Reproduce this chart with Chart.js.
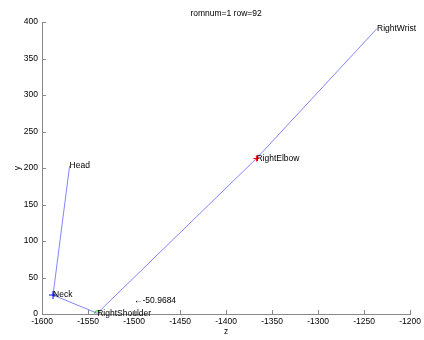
<!DOCTYPE html>
<html>
<head>
<meta charset="utf-8">
<script src="https://cdn.jsdelivr.net/npm/chart.js@4/dist/chart.umd.min.js"></script>
<style>
  html, body { margin: 0; padding: 0; background: #fff; }
  #wrap { width: 424px; height: 340px; }
</style>
</head>
<body>
<div id="wrap"><canvas id="c" width="424" height="340"></canvas></div>
<script>
// Skeleton joints: depth (z) and height (y)
const joints = ['Head', 'Neck', 'RightShoulder', 'RightElbow', 'RightWrist'];
const zValues = [-1570, -1588, -1540, -1367, -1236];
const yValues = [203, 26, 1, 213, 391];

// Angle annotation
const angleLabel = '\u2190-50.9684';
const angleZ = -1500;
const angleY = 18;

const plotTitle = 'romnum=1 row=92';
const xTicks = [-1600, -1550, -1500, -1450, -1400, -1350, -1300, -1250, -1200];
const yTicks = [0, 50, 100, 150, 200, 250, 300, 350, 400];

const FONT = '"Liberation Sans", Arial, sans-serif';
const FSIZE = 8.5;

const points = zValues.map((z, i) => ({ x: z, y: yValues[i] }));

const markerStyles = [false, 'cross', 'circle', 'cross', false];
const markerColors = ['#0000ff', '#0000ff', '#00cc00', '#ff0000', '#0000ff'];
const markerRadius = [0, 4, 2.5, 3, 0];

const annotate = {
  id: 'annotate',
  afterDatasetsDraw(chart) {
    const ctx = chart.ctx;
    const xs = chart.scales.x, ys = chart.scales.y;
    const area = chart.chartArea;
    ctx.save();
    // inward tick marks
    ctx.strokeStyle = '#888';
    ctx.lineWidth = 1;
    ctx.beginPath();
    xTicks.forEach(v => {
      const px = Math.round(xs.getPixelForValue(v)) + 0.5;
      ctx.moveTo(px, area.bottom);
      ctx.lineTo(px, area.bottom - 4);
    });
    yTicks.forEach(v => {
      const py = Math.round(ys.getPixelForValue(v)) + 0.5;
      ctx.moveTo(area.left, py);
      ctx.lineTo(area.left + 4, py);
    });
    ctx.stroke();

    // joint names
    ctx.fillStyle = '#000';
    ctx.font = FSIZE + 'px ' + FONT;
    ctx.textAlign = 'left';
    ctx.textBaseline = 'middle';
    joints.forEach((name, i) => {
      ctx.fillText(name, xs.getPixelForValue(zValues[i]), ys.getPixelForValue(yValues[i]));
    });
    ctx.fillText(angleLabel, xs.getPixelForValue(angleZ), ys.getPixelForValue(angleY));

    // title and axis labels
    ctx.textAlign = 'center';
    ctx.fillText(plotTitle, (area.left + area.right) / 2, 14);
    ctx.fillText('z', (area.left + area.right) / 2, 332);
    ctx.translate(18, (area.top + area.bottom) / 2);
    ctx.rotate(-Math.PI / 2);
    ctx.fillText('y', 0, 0);
    ctx.restore();
  }
};

new Chart(document.getElementById('c'), {
  type: 'scatter',
  data: {
    datasets: [{
      data: points,
      showLine: true,
      borderColor: 'rgba(110, 110, 255, 0.85)',
      borderWidth: 1,
      pointStyle: markerStyles,
      pointRadius: markerRadius,
      pointBorderColor: markerColors,
      pointBackgroundColor: 'rgba(0,0,0,0)',
      pointBorderWidth: 1
    }]
  },
  options: {
    responsive: false,
    animation: false,
    events: [],
    layout: { padding: { left: 0, top: 22, right: 12, bottom: 0 } },
    plugins: { legend: { display: false }, tooltip: { enabled: false } },
    scales: {
      x: {
        type: 'linear',
        min: -1600, max: -1200,
        afterBuildTicks: s => { s.ticks = xTicks.map(v => ({ value: v })); },
        afterFit: s => { s.height = 26; },
        grid: { display: false, drawTicks: false },
        border: { display: true, color: '#888' },
        ticks: { color: '#000', font: { family: FONT, size: FSIZE }, padding: 3, maxRotation: 0, autoSkip: false,
                 callback: v => String(v) }
      },
      y: {
        type: 'linear',
        min: 0, max: 400,
        afterBuildTicks: s => { s.ticks = yTicks.map(v => ({ value: v })); },
        afterFit: s => { s.width = 42; },
        grid: { display: false, drawTicks: false },
        border: { display: true, color: '#888' },
        ticks: { color: '#000', font: { family: FONT, size: FSIZE }, padding: 4, autoSkip: false,
                 callback: v => String(v) }
      }
    }
  },
  plugins: [annotate]
});
</script>
</body>
</html>
